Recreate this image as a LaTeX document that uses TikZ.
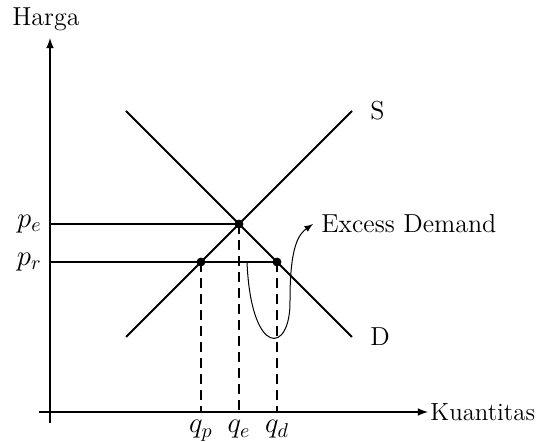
\documentclass[tikz,border=0pt,12pt]{standalone}
\usepackage{tikz}
\usetikzlibrary{arrows.meta,calc,positioning}

\begin{document}
\begin{tikzpicture}[x=0.5pt,y=-0.5pt,font=\fontsize{13}{15}\selectfont,
        mathlabel/.style={font=\fontsize{14.5}{16}\selectfont}]
        \useasboundingbox (0,0) rectangle (541,442);
        \def\ox{50}
        \def\oy{412}
        \def\pe{224}
        \def\pr{262}
        \coordinate (o) at (\ox,\oy);
        \coordinate (ytop) at (\ox,38);
        \coordinate (ybot) at (\ox,423);
        \coordinate (xleft) at (39,\oy);
        \coordinate (xright) at (428,\oy);
        \coordinate (s1) at (126,337);
        \coordinate (s2) at (352,111);
        \coordinate (d1) at (126,111);
        \coordinate (d2) at (352,337);
        \coordinate (e) at (239,\pe);
        \coordinate (qp) at (201,\pr);
        \coordinate (qd) at (277,\pr);
        \coordinate (ye) at (\ox,\pe);
        \coordinate (yr) at (\ox,\pr);
        \coordinate (xp) at (201,\oy);
        \coordinate (xe) at (239,\oy);
        \coordinate (xd) at (277,\oy);
        \coordinate (c1) at (247,\pr);
        \coordinate (c2) at (290,300);
        \coordinate (c3) at (313,224);
        %Draw axes
        \draw[line width=0.75pt,-latex] (ybot) -- (ytop);
        \draw[line width=0.75pt,-latex] (xleft) -- (xright);
        \node (harga) at (46,19) {Harga};
        \node[right=0pt,inner xsep=1pt,font=\fontsize{12.4}{14}\selectfont] (kuantitas) at (xright) {Kuantitas};
        %Draw lines
        \draw[line width=1pt] (s1) -- (s2);
        \draw[line width=1pt] (d1) -- (d2);
        \node[right=5pt] (slabel) at (s2) {S};
        \node[right=5pt] (dlabel) at (d2) {D};
        \draw[line width=1pt] (ye) -- (e);
        \draw[line width=1pt] (yr) -- (qd);
        \draw[line width=1pt,dash pattern=on 5pt off 3pt] (qp) -- (xp);
        \draw[line width=1pt,dash pattern=on 5pt off 3pt] (e) -- (xe);
        \draw[line width=1pt,dash pattern=on 5pt off 3pt] (qd) -- (xd);
        %Draw labels
        \node[mathlabel,left=0pt] (pelabel) at (ye) {$p_e$};
        \node[mathlabel,left=0pt] (prlabel) at (yr) {$p_r$};
        \node[mathlabel,below=0pt] (qplabel) at (xp) {$q_p$};
        \node[mathlabel,below=0pt] (qelabel) at (xe) {$q_e$};
        \node[mathlabel,below=0pt] (qdlabel) at (xd) {$q_d$};
        \fill (e) circle (2.2pt);
        \fill (qp) circle (2.2pt);
        \fill (qd) circle (2.2pt);
        %Excess demand
        \draw[line width=0.5pt,-latex] (c1) .. controls (251,358) and (291,355) .. (c2)
              .. controls (290,245) and (299,234) .. (c3);
        \node[right=0pt] (excess) at (c3) {Excess Demand};
      \end{tikzpicture}
\end{document}
